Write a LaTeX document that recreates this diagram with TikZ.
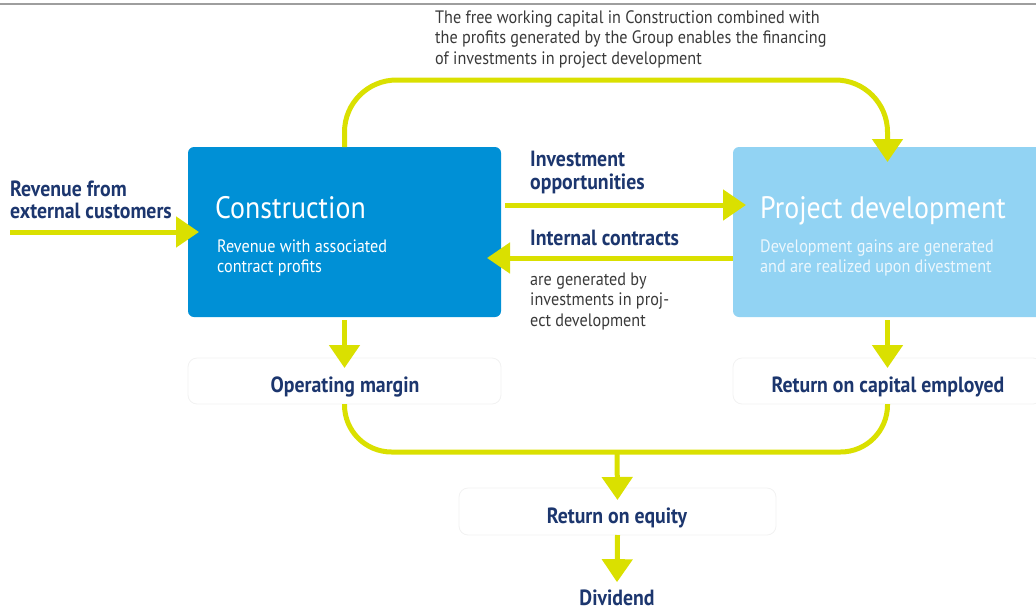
\documentclass[tikz,border=0pt]{standalone}
\usepackage{fontspec}
\setmainfont{PT Sans}[FakeStretch=0.9]
\usetikzlibrary{arrows.meta}
\definecolor{conblue}{RGB}{0,144,214}
\definecolor{projblue}{RGB}{146,211,243}
\definecolor{ylw}{RGB}{218,224,0}
\definecolor{navy}{RGB}{28,54,110}
\definecolor{txtgray}{RGB}{58,58,58}
\definecolor{paletxt}{RGB}{236,247,253}
\tikzset{
  unitbox/.style={draw=none, rounded corners=6pt, inner sep=0pt, outer sep=0pt},
  resultbox/.style={draw=black!5, line width=0.8pt, fill=white, rounded corners=9pt, inner sep=0pt, outer sep=0pt,
    minimum width=313pt, minimum height=46pt},
  yline/.style={draw=ylw, line width=5pt},
  flow/.style={yline, -{Triangle[width=30pt,length=23pt]}},
  heading/.style={text=white, inner sep=0pt, anchor=base west, font=\fontsize{31}{34}\selectfont},
  subtext/.style={inner sep=0pt, anchor=base west, align=left, font=\fontsize{18}{20}\selectfont},
  keylbl/.style={text=navy, inner sep=0pt, font=\bfseries\fontsize{22}{21.5}\selectfont},
  note/.style={text=txtgray, inner sep=0pt, anchor=base west, align=left, font=\fontsize{18}{20.5}\selectfont},
}
\begin{document}
\begin{tikzpicture}[x=1pt,y=-1pt]
\useasboundingbox (0,0) rectangle (1036,611);
% rule along the top edge
\draw[black!38, line width=1.5pt] (0,4) -- (1036,4);

% the two business streams
\node[unitbox, fill=conblue, minimum width=313pt, minimum height=170pt] (con) at (344.5,232) {};
\node[unitbox, fill=projblue, minimum width=309pt, minimum height=170pt] (proj) at (887.5,232) {};

% result measures
\node[resultbox] (om) at (344.5,381) {};
\node[resultbox, minimum width=309pt] (roce) at (887.5,381) {};
\node[resultbox, minimum width=317pt, minimum height=47pt] (roe) at (617.5,511.5) {};

% texts inside the streams (multi-line nodes sit on their last baseline)
\node[heading] (conttl) at (215,218) {Construction};
\node[subtext, text=white] (consub) at (217,272) {Revenue with associated\\contract profits};
\node[heading] (projttl) at (760,218) {Project development};
\node[subtext, text=paletxt] (projsub) at (760,272) {Development gains are generated\\and are realized upon divestment};

% labels
\node[keylbl, anchor=base west, align=left] (revlbl) at (10,218) {Revenue from\\external customers};
\node[keylbl, anchor=base west, align=left, font=\bfseries\fontsize{22}{22.5}\selectfont] (invlbl) at (530,189) {Investment\\opportunities};
\node[keylbl, anchor=base west] (intlbl) at (530,245) {Internal contracts};
\node[note] (intnote) at (530,326) {are generated by\\investments in proj-\\ect development};
\node[note] (topnote) at (435,64) {The free working capital in Construction combined with\\the profits generated by the Group enables the financing\\of investments in project development};

\node[keylbl, anchor=base] (omlbl) at (345,392) {Operating margin};
\node[keylbl, anchor=base] (rocelbl) at (888,392) {Return on capital employed};
\node[keylbl, anchor=base] (roelbl) at (617,523) {Return on equity};
\node[keylbl, anchor=base] (divlbl) at (617,605) {Dividend};

% connectors
\coordinate (revsrc) at (10,232);
\coordinate (join) at (617,452);
\draw[flow] (revsrc) -- ([xshift=11pt]con.west);
\draw[flow, rounded corners=52pt] (con.north) |- ([yshift=67pt]proj.north) -- ([yshift=-15pt]proj.north);
\draw[flow] ([shift={(4pt,27pt)}]con.east) -- ([shift={(13pt,27pt)}]proj.west);
\draw[flow] ([yshift=-26pt]proj.west) -- ([shift={(-14pt,-26pt)}]con.east);
\draw[flow] ([yshift=-3pt]con.south) -- ([yshift=-10pt]om.north);
\draw[flow] ([yshift=-3pt]proj.south) -- ([yshift=-10pt]roce.north);
\draw[yline, rounded corners=47pt] (om.south) |- (join) -| (roce.south);
\draw[flow] (join) -- ([yshift=-12pt]roe.north);
\draw[flow] (roe.south) -- ([yshift=7pt]divlbl.north);
\end{tikzpicture}
\end{document}
